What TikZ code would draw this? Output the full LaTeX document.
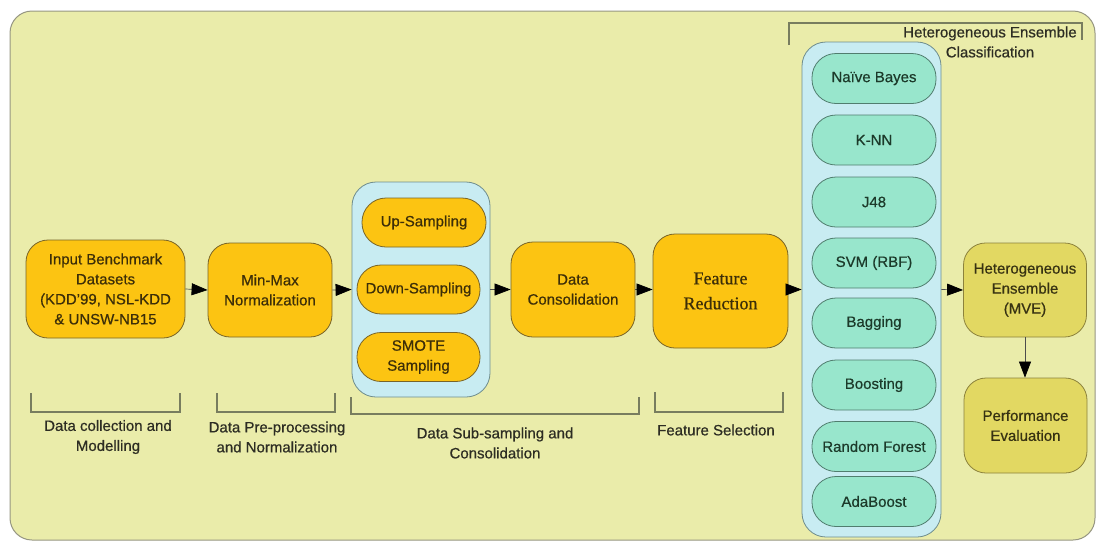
\documentclass[tikz,border=0pt]{standalone}
\usepackage{fontspec}
\setmainfont{Liberation Sans}[FakeBold=0.6]
\newfontfamily\serifface{Liberation Serif}[FakeBold=0.6]
\usetikzlibrary{arrows.meta}

\definecolor{canvas}{RGB}{234,236,170}
\definecolor{canvasline}{RGB}{150,150,130}
\definecolor{gold}{RGB}{252,196,18}
\definecolor{goldline}{RGB}{120,100,40}
\definecolor{goldtext}{RGB}{60,46,8}
\definecolor{paleblue}{RGB}{200,236,242}
\definecolor{palebluel}{RGB}{110,140,140}
\definecolor{mint}{RGB}{152,230,204}
\definecolor{mintline}{RGB}{80,125,110}
\definecolor{minttext}{RGB}{28,58,42}
\definecolor{khaki}{RGB}{226,216,98}
\definecolor{khakiline}{RGB}{140,130,60}
\definecolor{khakitext}{RGB}{55,50,18}
\definecolor{bracketc}{RGB}{120,125,95}
\definecolor{labeltext}{RGB}{45,45,35}

\tikzset{
  txt/.style={font=\fontsize{15}{20}\selectfont, align=center},
  goldbox/.style={txt, draw=goldline, fill=gold, line width=0.8pt, rounded corners=22pt,
    text=goldtext, inner sep=0pt},
  goldpill/.style={txt, draw=goldline, fill=gold, line width=0.8pt, rounded corners=24pt,
    text=goldtext, inner sep=0pt, minimum height=49pt},
  group/.style={draw=palebluel, fill=paleblue, line width=0.8pt, rounded corners=24pt, inner sep=0pt},
  classpill/.style={txt, draw=mintline, fill=mint, line width=0.8pt, rounded corners=24pt,
    text=minttext, inner sep=0pt, minimum width=124pt, minimum height=50pt},
  khakibox/.style={txt, draw=khakiline, fill=khaki, line width=0.8pt, rounded corners=22pt,
    text=khakitext, inner sep=0pt, minimum width=123pt, minimum height=94pt},
  flow/.style={draw=black!70, line width=0.7pt,
    -{Triangle[length=16pt, width=12pt, color=black, fill=black]}},
  bracket/.style={draw=bracketc, line width=1.3pt},
  phase/.style={txt, text=labeltext, inner sep=0pt},
}

\begin{document}
\begin{tikzpicture}[x=1pt, y=-1pt]
\useasboundingbox (0,0) rectangle (1103,542);

% canvas
\draw[draw=canvasline, fill=canvas, line width=1pt, rounded corners=22pt]
  (10,11) rectangle (1095,540);

% stage boxes
\node[goldbox, minimum width=159pt, minimum height=98pt] (input) at (105.5,289)
  {Input Benchmark\\Datasets\\(KDD'99, NSL-KDD\\\& UNSW-NB15};
\node[goldbox, minimum width=124pt, minimum height=94pt] (minmax) at (270,290)
  {Min-Max\\Normalization};

% sampling group
\node[group, minimum width=138pt, minimum height=215pt] (sampling) at (421,289.5) {};
\node[goldpill, minimum width=124pt] (up) at (424,222.5) {Up-Sampling};
\node[goldpill, minimum width=123pt] (down) at (418.5,289.5) {Down-Sampling};
\node[goldpill, minimum width=123pt] (smote) at (418.5,357) {SMOTE\\Sampling};

\node[goldbox, minimum width=124pt, minimum height=95pt] (consol) at (573,289.5)
  {Data\\Consolidation};
\node[goldbox, minimum width=135pt, minimum height=114pt,
  font=\serifface\fontsize{18}{25}\selectfont] (reduce) at (720.5,291)
  {Feature\\Reduction};

% classifier group
\node[group, minimum width=139pt, minimum height=495pt] (classifiers) at (871.5,289.5) {};
\node[classpill] (nb)  at (874,78.5)  {Naïve Bayes};
\node[classpill] (knn) at (874,140)   {K-NN};
\node[classpill] (j48) at (874,202)   {J48};
\node[classpill] (svm) at (874,263)   {SVM (RBF)};
\node[classpill] (bag) at (874,323)   {Bagging};
\node[classpill] (bst) at (874,385)   {Boosting};
\node[classpill] (rf)  at (874,446.5) {Random Forest};
\node[classpill] (ada) at (874,501.5) {AdaBoost};

\node[khakibox] (mve) at (1025,290) {Heterogeneous\\Ensemble\\(MVE)};
\node[khakibox, minimum height=95pt] (perf) at (1025.5,425.5) {Performance\\Evaluation};

% flow
\draw[flow] (input.east) -- (minmax.west);
\draw[flow] (minmax.east) -- (sampling.west);
\draw[flow] (sampling.east) -- (consol.west);
\draw[flow] (consol.east) -- (reduce.west |- consol.east);
\draw[flow] (reduce.east |- consol.east) -- (classifiers.west);
\draw[flow] (classifiers.east) -- (mve.west);
\draw[flow] (mve.south) -- (mve.south |- perf.north);

% phase brackets
\draw[bracket] (31,393) -- (31,412) -- (180,412) -- (180,393);
\draw[bracket] (217,393) -- (217,412) -- (335,412) -- (335,393);
\draw[bracket] (351,397) -- (351,414) -- (639,414) -- (639,397);
\draw[bracket] (655,392) -- (655,412) -- (783,412) -- (783,392);
\draw[bracket] (789,45) -- (789,23) -- (1082,23) -- (1082,40);

\node[phase] (p1) at (108,437) {Data collection and\\Modelling};
\node[phase] (p2) at (277,437) {Data Pre-processing\\and Normalization};
\node[phase] (p3) at (495,443) {Data Sub-sampling and\\Consolidation};
\node[phase] (p4) at (716,430) {Feature Selection};
\node[phase] (p5) at (990,42) {Heterogeneous Ensemble\\Classification};

\end{tikzpicture}
\end{document}
